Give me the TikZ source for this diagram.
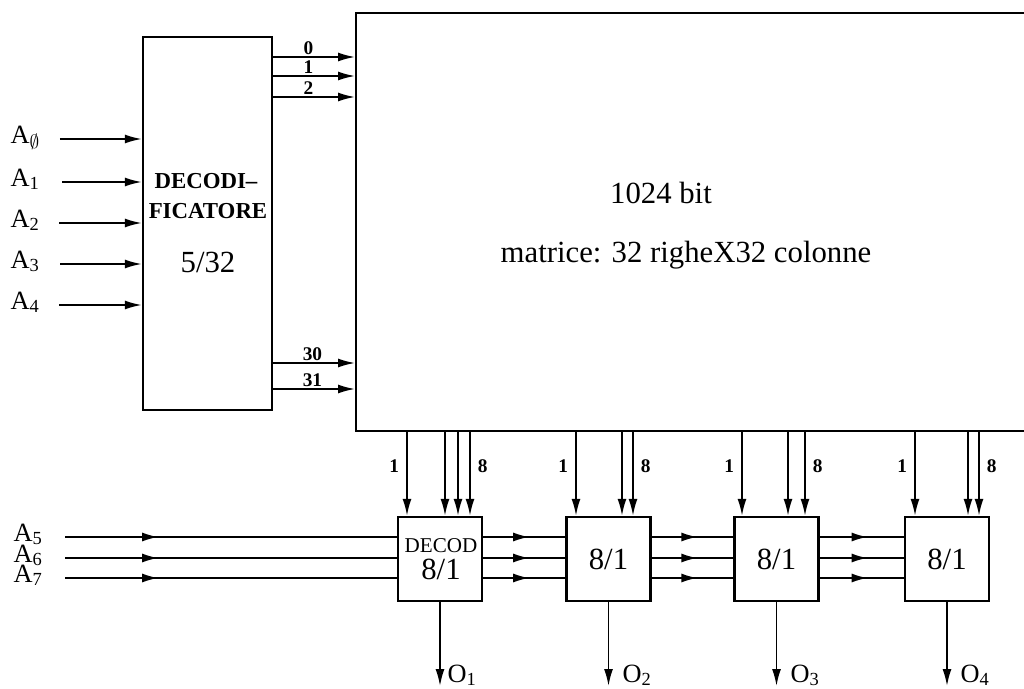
\documentclass[tikz,border=0pt]{standalone}
\usepackage{fontspec}
\setmainfont{Liberation Serif}
\usetikzlibrary{arrows.meta,positioning,decorations.markings}

\begin{document}
\begin{tikzpicture}[
    x=0.02cm, y=-0.02cm, line width=1pt,
    every node/.style={inner sep=1pt},
    blk/.style={draw,line width=1.4pt,minimum width=1.68cm,minimum height=1.68cm},
    sig/.style={-{Latex[length=3.4mm,width=1.8mm]}},
    midsig/.style={postaction={decorate},decoration={markings,
        mark=at position #1 with {\arrow{Latex[length=3.2mm,width=1.8mm]}}}},
    addr/.style={anchor=mid west,font=\fontsize{15}{15}\selectfont},
    num/.style={font=\fontsize{11}{11}\selectfont\bfseries},
    big/.style={font=\fontsize{17.5}{20}\selectfont}]
    \useasboundingbox (0,0) rectangle (1024,689);
    \clip (0,0) rectangle (1024,689);

    % Decodificatore di riga 5/32.
    \node[blk,minimum width=2.58cm,minimum height=7.46cm] (dec) at (207.5,223.5) {};
    \node[font=\fontsize{13}{15}\selectfont\bfseries] (decA) at (206,181) {DECODI--};
    \node[font=\fontsize{13}{15}\selectfont\bfseries] (decB) at (208,211) {FICATORE};
    \node[big] (decC) at (208,262) {5/32};

    % Matrice 32x32, aperta a destra.
    \node[blk,anchor=north west,minimum width=16cm,minimum height=8.36cm] (mat) at (355,12) {};
    \node[big] (bits) at (661,193) {1024 bit};
    \node[big] (org) at (686,255) {matrice: 32 righeX32 colonne};

    % Indirizzi di riga A0..A4.
    \node[addr] (a0) at (8,139) {A\textsubscript{$\emptyset$}};
    \node[addr] (a1) at (8,182) {A\textsubscript{1}};
    \node[addr] (a2) at (8,223) {A\textsubscript{2}};
    \node[addr] (a3) at (8,264) {A\textsubscript{3}};
    \node[addr] (a4) at (8,305) {A\textsubscript{4}};
    \draw[sig] ([xshift=.34cm]a0.mid east) -- (a0.mid east -| dec.west);
    \draw[sig] ([xshift=.4cm]a1.mid east) -- (a1.mid east -| dec.west);
    \draw[sig] ([xshift=.34cm]a2.mid east) -- (a2.mid east -| dec.west);
    \draw[sig] ([xshift=.36cm]a3.mid east) -- (a3.mid east -| dec.west);
    \draw[sig] ([xshift=.34cm]a4.mid east) -- (a4.mid east -| dec.west);

    % Righe selezionate 0..31.
    \draw[sig] (dec.east |- 0,57) -- (mat.west |- 0,57) node[num,pos=.43,above] {0};
    \draw[sig] (dec.east |- 0,76) -- (mat.west |- 0,76) node[num,pos=.43,above] {1};
    \draw[sig] (dec.east |- 0,97) -- (mat.west |- 0,97) node[num,pos=.43,above] {2};
    \draw[sig] (dec.east |- 0,363) -- (mat.west |- 0,363) node[num,pos=.48,above] {30};
    \draw[sig] (dec.east |- 0,389) -- (mat.west |- 0,389) node[num,pos=.48,above] {31};

    % Selettori 8/1.
    \node[blk] (m1) at (440,559) {};
    \node[font=\fontsize{12}{14}\selectfont] (m1a) at (441,546) {DECOD};
    \node[big] (m1b) at (441,569) {8/1};
    \node[blk,big] (m2) at (608.5,559) {8/1};
    \node[blk,big] (m3) at (776.5,559) {8/1};
    \node[blk,big] (m4) at (947,559) {8/1};

    % Colonne dalla matrice ai selettori.
    \draw[sig] (mat.south -| 407,0) -- (m1.north -| 407,0) node[num,pos=.4,left=3pt] {1};
    \draw[sig] (mat.south -| 445,0) -- (m1.north -| 445,0);
    \draw[sig] (mat.south -| 458,0) -- (m1.north -| 458,0);
    \draw[sig] (mat.south -| 470,0) -- (m1.north -| 470,0) node[num,pos=.4,right=3pt] {8};
    \draw[sig] (mat.south -| 576,0) -- (m2.north -| 576,0) node[num,pos=.4,left=3pt] {1};
    \draw[sig] (mat.south -| 622,0) -- (m2.north -| 622,0);
    \draw[sig] (mat.south -| 633,0) -- (m2.north -| 633,0) node[num,pos=.4,right=3pt] {8};
    \draw[sig] (mat.south -| 742,0) -- (m3.north -| 742,0) node[num,pos=.4,left=3pt] {1};
    \draw[sig] (mat.south -| 788,0) -- (m3.north -| 788,0);
    \draw[sig] (mat.south -| 805,0) -- (m3.north -| 805,0) node[num,pos=.4,right=3pt] {8};
    \draw[sig] (mat.south -| 915,0) -- (m4.north -| 915,0) node[num,pos=.4,left=3pt] {1};
    \draw[sig] (mat.south -| 968,0) -- (m4.north -| 968,0);
    \draw[sig] (mat.south -| 979,0) -- (m4.north -| 979,0) node[num,pos=.4,right=3pt] {8};

    % Indirizzi di colonna A5..A7, portati a tutti i selettori.
    \node[addr] (a5) at (11,537) {A\textsubscript{5}};
    \node[addr] (a6) at (11,558) {A\textsubscript{6}};
    \node[addr] (a7) at (11,578) {A\textsubscript{7}};
    \draw[midsig=.28] ([xshift=.4cm]a5.mid east) -- (a5.mid east -| m1.west);
    \draw[midsig=.28] ([xshift=.4cm]a6.mid east) -- (a6.mid east -| m1.west);
    \draw[midsig=.28] ([xshift=.4cm]a7.mid east) -- (a7.mid east -| m1.west);
    \draw[midsig=.56] (a5.mid east -| m1.east) -- (a5.mid east -| m2.west);
    \draw[midsig=.56] (a6.mid east -| m1.east) -- (a6.mid east -| m2.west);
    \draw[midsig=.56] (a7.mid east -| m1.east) -- (a7.mid east -| m2.west);
    \draw[midsig=.56] (a5.mid east -| m2.east) -- (a5.mid east -| m3.west);
    \draw[midsig=.56] (a6.mid east -| m2.east) -- (a6.mid east -| m3.west);
    \draw[midsig=.56] (a7.mid east -| m2.east) -- (a7.mid east -| m3.west);
    \draw[midsig=.57] (a5.mid east -| m3.east) -- (a5.mid east -| m4.west);
    \draw[midsig=.57] (a6.mid east -| m3.east) -- (a6.mid east -| m4.west);
    \draw[midsig=.57] (a7.mid east -| m3.east) -- (a7.mid east -| m4.west);

    % Uscite O1..O4.
    \coordinate (t1) at (m1.south |- 0,686);
    \coordinate (t2) at (m2.south |- 0,686);
    \coordinate (t3) at (m3.south |- 0,686);
    \coordinate (t4) at (m4.south |- 0,686);
    \draw[sig] (m1.south) -- (t1);
    \draw[sig] (m2.south) -- (t2);
    \draw[sig] (m3.south) -- (t3);
    \draw[sig] (m4.south) -- (t4);
    \node[addr,anchor=base west] (o1) at (445,682) {O\textsubscript{1}};
    \node[addr,anchor=base west] (o2) at (620,682) {O\textsubscript{2}};
    \node[addr,anchor=base west] (o3) at (788,682) {O\textsubscript{3}};
    \node[addr,anchor=base west] (o4) at (958,682) {O\textsubscript{4}};
\end{tikzpicture}
\end{document}
